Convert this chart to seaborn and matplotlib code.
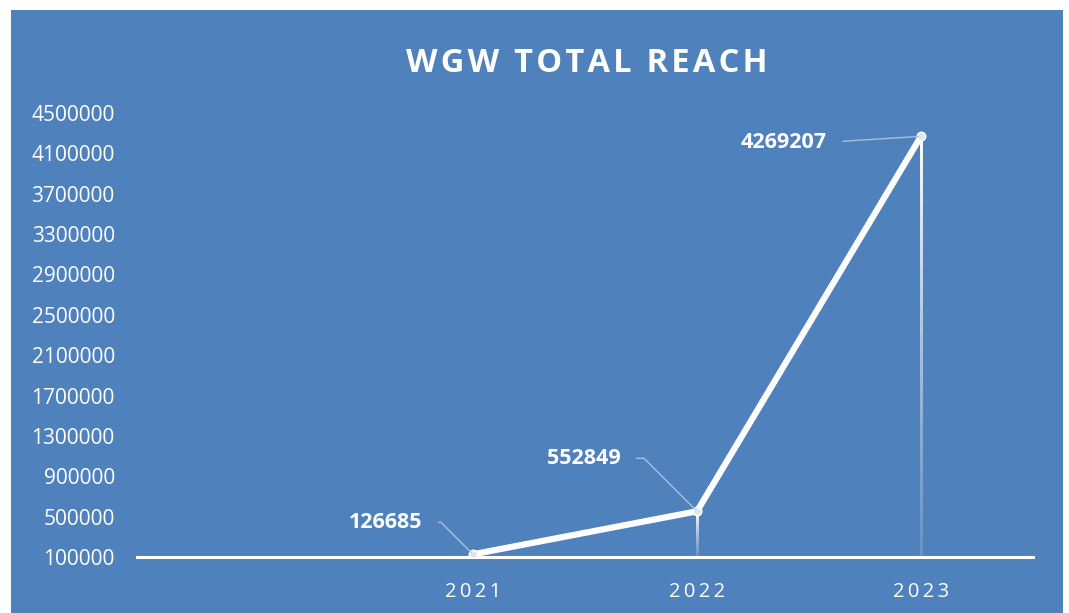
import matplotlib
matplotlib.use("Agg")
import matplotlib.pyplot as plt
import seaborn as sns
import numpy as np
import pandas as pd
from matplotlib.patches import Rectangle

years = ["2021", "2022", "2023"]
reach = [126685, 552849, 4269207]
yticks = [100000, 500000, 900000, 1300000, 1700000, 2100000, 2500000,
          2900000, 3300000, 3700000, 4100000, 4500000]
title = "WGW TOTAL REACH"

BLUE = "#4F81BD"
sns.set_theme(style="white")
plt.rcParams['font.family'] = ['Open Sans', 'DejaVu Sans']

W, H = 1069, 613
fig = plt.figure(figsize=(W / 100, H / 100), dpi=100)
fig.patch.set_facecolor("white")
fig.patches.append(Rectangle((11 / W, 0), (1063 - 11) / W, (H - 10) / H,
                             transform=fig.transFigure, facecolor=BLUE,
                             edgecolor="none", zorder=-5))

ax = fig.add_axes([137 / W, (H - 557) / H, (1033 - 137) / W, (557 - 113) / H])
ax.set_facecolor("none")
ax.set_zorder(2)

df = pd.DataFrame({"x": np.arange(len(years)), "y": reach})

# drop lines: white fading toward the axis (vertical gradient)
grad = np.zeros((256, 1, 4))
grad[..., :3] = 1.0
grad[:, 0, 3] = 0.15 + 0.85 * np.linspace(0, 1, 256) ** 1.2
hw = 0.0045
for xi, yi in zip(df["x"], df["y"]):
    ax.imshow(grad, extent=[xi - hw, xi + hw, yticks[0], yi], origin="lower",
              aspect="auto", interpolation="bilinear", zorder=2)

sns.lineplot(data=df, x="x", y="y", ax=ax, color="white", lw=4.5,
             marker="o", markersize=6, markerfacecolor="#DCE6F2",
             markeredgecolor="white", markeredgewidth=1.2, zorder=4)

ax.set_xlim(-1.5, 2.5)
ax.set_ylim(yticks[0], yticks[-1])
ax.set_aspect("auto")
ax.set_yticks(yticks)
ax.set_yticklabels([str(v) for v in yticks])
ax.set_xticks(df["x"])
ax.set_xticklabels(["\u2009".join(y) for y in years])
ax.tick_params(axis="y", colors="white", labelsize=15, length=0, pad=16)
ax.tick_params(axis="x", colors="white", labelsize=14.5, length=0, pad=18)
ax.grid(False)
ax.set_xlabel("")
ax.set_ylabel("")
for s in ["top", "right", "left"]:
    ax.spines[s].set_visible(False)
ax.spines["bottom"].set_color("white")
ax.spines["bottom"].set_linewidth(2.2)
ax.spines["bottom"].set_zorder(3)

lead = "#A9C0DE"
offsets = [(-87, 32), (-113, 53), (-137, -6)]
styles = ["angle,angleA=0,angleB=-45,rad=0", "angle,angleA=0,angleB=-45,rad=0", "arc3,rad=0"]
for xi, yi, off, cs in zip(df["x"], df["y"], offsets, styles):
    ax.annotate(str(yi), xy=(xi, yi), xytext=off, textcoords="offset pixels",
                ha="center", va="center", color="white", fontsize=15.5,
                fontweight="bold",
                arrowprops=dict(arrowstyle="-", color=lead, lw=1.0,
                                connectionstyle=cs, relpos=(1, 0.5),
                                shrinkA=9, shrinkB=2),
                zorder=5)

fig.text(587 / W, (H - 64) / H, "\u200a".join(title), ha="center", va="center",
         color="white", fontsize=23.5, fontweight="bold")

fig.savefig("out.png", dpi=100, facecolor=fig.get_facecolor())
